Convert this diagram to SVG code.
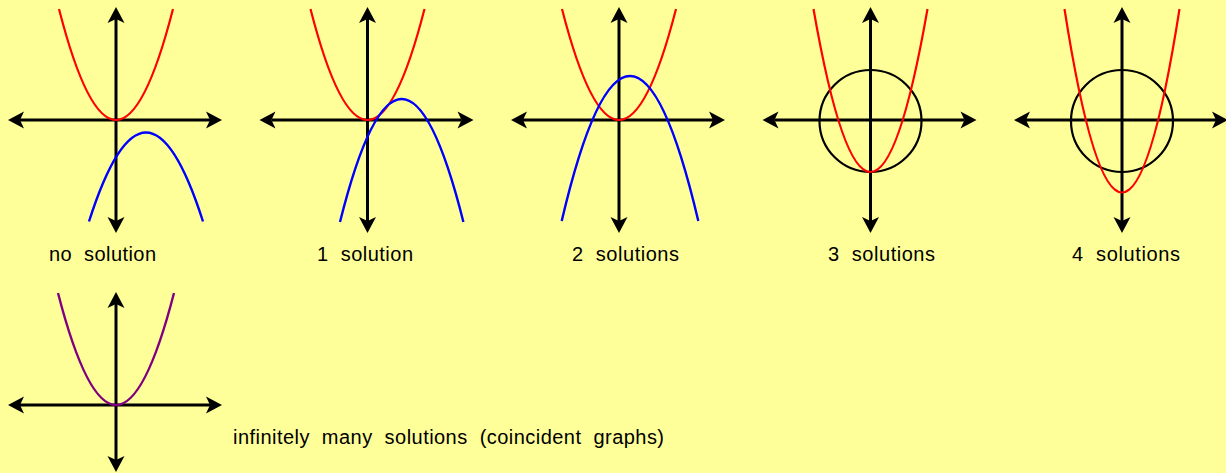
<svg xmlns="http://www.w3.org/2000/svg" width="1226" height="473" viewBox="0 0 1226 473">
<style>
.axis{stroke:#000;stroke-width:3;fill:none;marker-start:url(#ah);marker-end:url(#ah)}
.red{stroke:#ff0000;stroke-width:2.2;fill:none}
.blue{stroke:#0000ff;stroke-width:2.4;fill:none}
.purple{stroke:#800080;stroke-width:2.4;fill:none}
.circ{stroke:#000;stroke-width:2.2;fill:none}
.lbl{font-family:"Liberation Sans",Arial,sans-serif;font-size:20px;fill:#000;white-space:pre}
</style>
<defs>
<marker id="ah" markerUnits="userSpaceOnUse" markerWidth="30" markerHeight="30" viewBox="-10 -15 30 30" refX="0" refY="0" orient="auto-start-reverse" overflow="visible">
<path d="M12,0 L-4,-8.5 L0,0 L-4,8.5 Z" fill="#000"/>
</marker>
</defs>
<rect width="1226" height="473" fill="#ffff99"/>
<g id="graph-no-solution">
<path class="axis" d="M20,120 H210"/>
<path class="axis" d="M116,19 V221"/>
<path class="red" d="M59,9 Q116,231 173,9"/>
<path class="blue" d="M89,221.5 Q146,43.5 203,221.5"/>
<text class="lbl" x="49" y="261" textLength="107" lengthAdjust="spacing" xml:space="preserve">no  solution</text>
</g>
<g id="graph-1-solution">
<path class="axis" d="M271.5,120 H461.5"/>
<path class="axis" d="M367.5,19 V221"/>
<path class="red" d="M310.5,9 Q367.5,231 424.5,9"/>
<path class="blue" d="M340,222 Q401.7,-24 463.4,222"/>
<text class="lbl" x="317" y="261" textLength="96" lengthAdjust="spacing" xml:space="preserve">1  solution</text>
</g>
<g id="graph-2-solutions">
<path class="axis" d="M523,120 H713"/>
<path class="axis" d="M619,19 V221"/>
<path class="red" d="M562,9 Q619,231 676,9"/>
<path class="blue" d="M561.7,221 Q630,-69 698.3,221"/>
<text class="lbl" x="572" y="261" textLength="107" lengthAdjust="spacing" xml:space="preserve">2  solutions</text>
</g>
<g id="graph-3-solutions">
<path class="axis" d="M774.5,120 H964.5"/>
<path class="axis" d="M870.5,19 V221"/>
<circle class="circ" cx="870.5" cy="121" r="51"/>
<path class="red" d="M813.5,9 Q870.5,335 927.5,9"/>
<text class="lbl" x="828" y="261" textLength="107" lengthAdjust="spacing" xml:space="preserve">3  solutions</text>
</g>
<g id="graph-4-solutions">
<path class="axis" d="M1026,120 H1216"/>
<path class="axis" d="M1122,19 V221"/>
<circle class="circ" cx="1122" cy="121" r="51"/>
<path class="red" d="M1064.5,9 Q1122,376 1179.5,9"/>
<text class="lbl" x="1072" y="261" textLength="108" lengthAdjust="spacing" xml:space="preserve">4  solutions</text>
</g>
<g id="graph-infinite">
<path class="axis" d="M20,405 H210"/>
<path class="axis" d="M116,304 V460"/>
<path class="purple" d="M58,293 Q116,517 174,293"/>
<text class="lbl" x="233" y="444" textLength="431" lengthAdjust="spacing" xml:space="preserve">infinitely  many  solutions  (coincident  graphs)</text>
</g>
</svg>
